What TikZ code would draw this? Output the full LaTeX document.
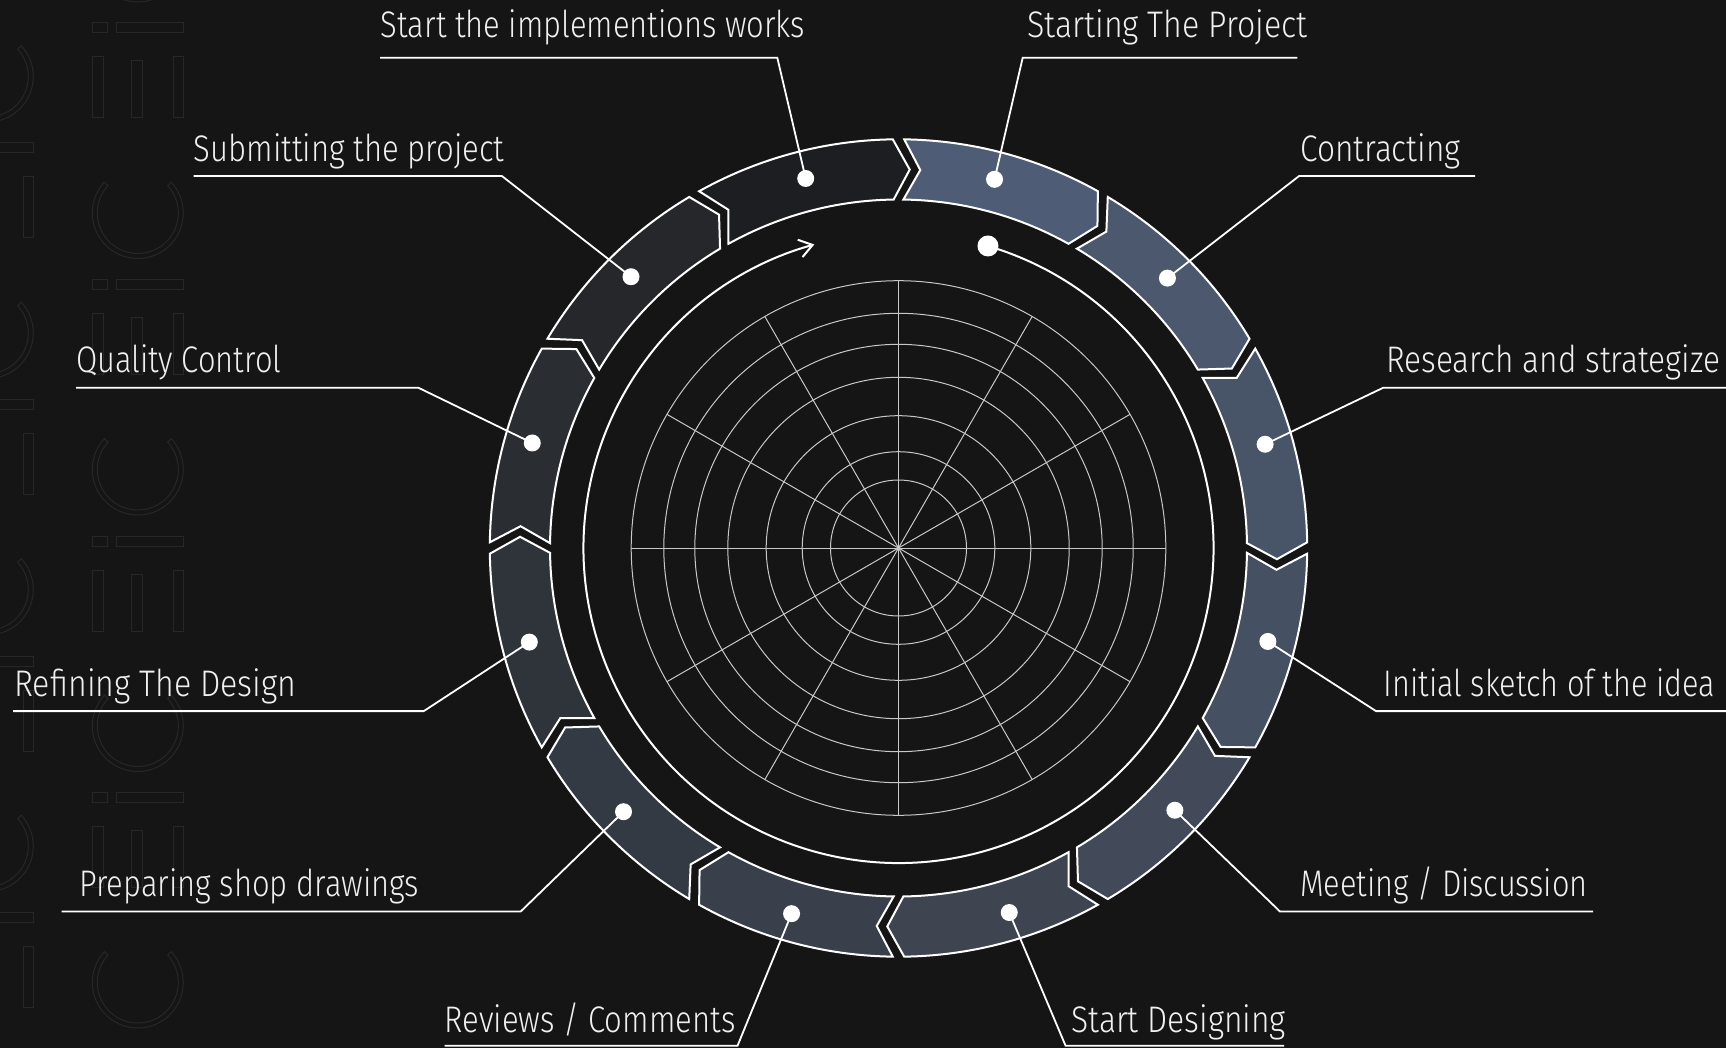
\documentclass[tikz,border=0pt]{standalone}
\usepackage{fontspec}
\IfFontExistsTF{Fira Sans Light}{\setmainfont{Fira Sans Light}}{\IfFontExistsTF{Lato Light}{\setmainfont{Lato Light}}{\setmainfont{Fira Sans}}}
\usetikzlibrary{arrows.meta}
\definecolor{bg}{HTML}{151515}
\definecolor{wmc}{HTML}{272727}
\definecolor{gridc}{HTML}{C8C8C8}
\definecolor{txt}{HTML}{F0F0F0}
\definecolor{s0}{HTML}{4E5D75}
\definecolor{s1}{HTML}{4B586D}
\definecolor{s2}{HTML}{485468}
\definecolor{s3}{HTML}{465063}
\definecolor{s4}{HTML}{424A5A}
\definecolor{s5}{HTML}{3E4551}
\definecolor{s6}{HTML}{3A404B}
\definecolor{s7}{HTML}{333A43}
\definecolor{s8}{HTML}{2F343A}
\definecolor{s9}{HTML}{2A2D32}
\definecolor{s10}{HTML}{25272B}
\definecolor{s11}{HTML}{1D1E21}
\newcommand\lbltext[2]{\scalebox{#1}[1]{#2}}
\tikzset{
  wm/.style={draw=wmc, line width=1pt},
  segbox/.style={draw=white, line width=2pt, line join=miter},
  gridline/.style={draw=gridc, line width=1pt},
  ringline/.style={draw=white, line width=2pt},
  dotnode/.style={circle, fill=white, inner sep=0pt, minimum size=17pt},
  bigdot/.style={circle, fill=white, inner sep=0pt, minimum size=21pt},
  lbl/.style={anchor=base west, inner sep=0pt, text=txt, font=\fontsize{37}{44}\selectfont},
  uline/.style={draw=white, line width=1.8pt},
}
\begin{document}
\begin{tikzpicture}[x=1pt,y=1pt]
\fill[bg] (0,0) rectangle (1726,-1048);
\useasboundingbox (0,0) rectangle (1726,-1048);
% faint watermark pattern
\begin{scope}
\clip (0,0) rectangle (1726,-1048);
\foreach \n in {-1,0,1,2,3,4} {
  \pgfmathsetmacro\yo{-(23+256.5*\n)}
  \foreach \dx/\dy in {0/0,-150/120} {
    \begin{scope}[shift={(\dx,\yo-\dy)}]
      \draw[wm] (92,0) rectangle (107,-10);
      \draw[wm] (116,0) rectangle (183,-10);
      \draw[wm] (92,-34) rectangle (103,-95);
      \draw[wm] (131,-38) rectangle (142,-95);
      \draw[wm] (173,-34) rectangle (183,-95);
      \draw[wm, shift={(137.8,-190)}] (137.4:45.5) arc[start angle=137.4, end angle=402.6, radius=45.5]
        -- (42.6:40.5) arc[start angle=42.6, end angle=-222.6, radius=40.5] -- cycle;
    \end{scope}
  }
}
\end{scope}
% polar grid
\begin{scope}[shift={(898.5,-548)}]
  \foreach \r in {68,96.3,132.3,170.7,203.7,234.7,267.3}
    \draw[gridline] (0,0) circle[radius=\r];
  \foreach \t in {0,30,...,330}
    \draw[gridline] (0,0) -- (\t:267.3);
  % circle with arrow
  \draw[ringline, -{Straight Barb[length=13pt,width=18pt,line width=2pt]}] (73.5:315) arc[start angle=73.5, end angle=-254.5, radius=315];
  \node[bigdot] (startdot) at (73.5:315) {};
  % ring segments
  \foreach \k/\m in {0/75.4,1/45.1,2/15.8,3/-14.2,4/-43.5,5/-73.1,6/-106.3,7/-136.2,8/-165.7,9/164,10/134.6,11/104.1} {
    \pgfmathsetmacro\a{90-30*\k-0.8}
    \pgfmathsetmacro\b{60-30*\k+0.8}
    \pgfmathsetmacro\at{\a-2.5}
    \pgfmathsetmacro\bt{\b-2.5}
    \draw[segbox, fill=s\k] (\a:408.7) arc[start angle=\a, end angle=\b, radius=408.7]
      -- (\bt:378.6) -- (\b:348.5) arc[start angle=\b, end angle=\a, radius=348.5]
      -- (\at:378.6) -- cycle;
    \node[dotnode] (d\k) at (\m:381) {};
  }
\end{scope}
% labels
\node[lbl] (t0) at (1027,-37.8) {\lbltext{0.868}{Starting The Project}};
\coordinate (u0a) at (1022.7,-57.7); \coordinate (u0b) at (1297.3,-57.7);
\draw[uline] (u0b) -- (u0a) -- (d0.center);

\node[lbl] (t1) at (1300,-161.6) {\lbltext{0.855}{Contracting}};
\coordinate (u1a) at (1299,-176.1); \coordinate (u1b) at (1475,-176.1);
\draw[uline] (u1b) -- (u1a) -- (d1.center);

\node[lbl] (t2) at (1386,-372.5) {\lbltext{0.855}{Research and strategize}};
\coordinate (u2a) at (1383.3,-387.7); \coordinate (u2b) at (1726,-387.7);
\draw[uline] (u2b) -- (u2a) -- (d2.center);

\node[lbl] (t3) at (1383.7,-696.6) {\lbltext{0.828}{Initial sketch of the idea}};
\coordinate (u3a) at (1376,-711.1); \coordinate (u3b) at (1726,-711.1);
\draw[uline] (u3b) -- (u3a) -- (d3.center);

\node[lbl] (t4) at (1300,-896.5) {\lbltext{0.83}{Meeting / Discussion}};
\coordinate (u4a) at (1280,-911.5); \coordinate (u4b) at (1593,-911.5);
\draw[uline] (u4b) -- (u4a) -- (d4.center);

\node[lbl] (t5) at (1071,-1032) {\lbltext{0.86}{Start Designing}};
\coordinate (u5a) at (1065.6,-1045.8); \coordinate (u5b) at (1284,-1045.8);
\draw[uline] (u5b) -- (u5a) -- (d5.center);

\node[lbl] (t6) at (444.7,-1032) {\lbltext{0.839}{Reviews / Comments}};
\coordinate (u6a) at (444.7,-1045.8); \coordinate (u6b) at (737.5,-1045.8);
\draw[uline] (u6a) -- (u6b) -- (d6.center);

\node[lbl] (t7) at (79,-896.5) {\lbltext{0.836}{Preparing shop drawings}};
\coordinate (u7a) at (61.6,-911.5); \coordinate (u7b) at (520.7,-911.5);
\draw[uline] (u7a) -- (u7b) -- (d7.center);

\node[lbl] (t8) at (14.3,-696.6) {\lbltext{0.868}{Refining The Design}};
\coordinate (u8a) at (13.2,-711.1); \coordinate (u8b) at (423.8,-711.1);
\draw[uline] (u8a) -- (u8b) -- (d8.center);

\node[lbl] (t9) at (76,-372.5) {\lbltext{0.833}{Quality Control}};
\coordinate (u9a) at (76,-387.7); \coordinate (u9b) at (418.3,-387.7);
\draw[uline] (u9a) -- (u9b) -- (d9.center);

\node[lbl] (t10) at (193.7,-161.6) {\lbltext{0.84}{Submitting the project}};
\coordinate (u10a) at (193.7,-176.1); \coordinate (u10b) at (502,-176.1);
\draw[uline] (u10a) -- (u10b) -- (d10.center);

\node[lbl] (t11) at (380.7,-37.8) {\lbltext{0.835}{Start the implementions works}};
\coordinate (u11a) at (380,-57.7); \coordinate (u11b) at (777.3,-57.7);
\draw[uline] (u11a) -- (u11b) -- (d11.center);
\end{tikzpicture}
\end{document}
